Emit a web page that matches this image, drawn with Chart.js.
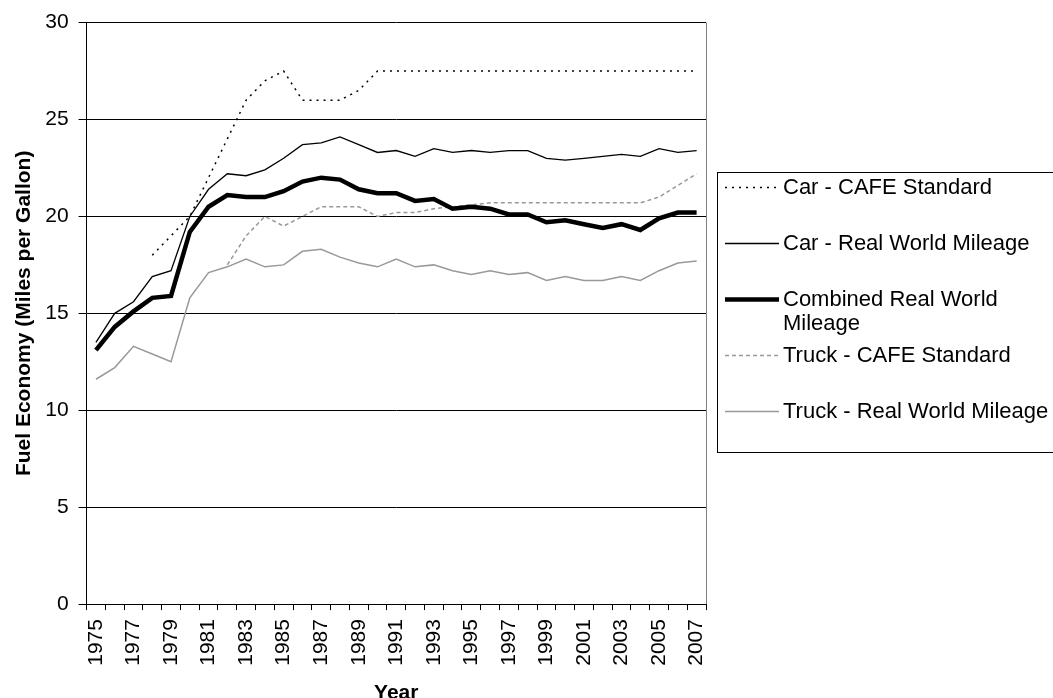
<html>
<head>
<style>
  body { margin: 0; background: #fff; }
  #wrap { width: 1053px; height: 698px; }
</style>
<script src="https://cdn.jsdelivr.net/npm/chart.js@4.4.0/dist/chart.umd.min.js"></script>
</head>
<body>
<div id="wrap"><canvas id="canvas" width="1053" height="698"></canvas></div>
<script>
var years = ['1975','1976','1977','1978','1979','1980','1981','1982','1983','1984','1985','1986','1987','1988','1989','1990','1991','1992','1993','1994','1995','1996','1997','1998','1999','2000','2001','2002','2003','2004','2005','2006','2007'];
var carCafe = [null,null,null,18.0,19.0,20.0,22.0,24.0,26.0,27.0,27.5,26.0,26.0,26.0,26.5,27.5,27.5,27.5,27.5,27.5,27.5,27.5,27.5,27.5,27.5,27.5,27.5,27.5,27.5,27.5,27.5,27.5,27.5];
var carReal = [13.5,15.0,15.6,16.9,17.2,20.0,21.4,22.2,22.1,22.4,23.0,23.7,23.8,24.1,23.7,23.3,23.4,23.1,23.5,23.3,23.4,23.3,23.4,23.4,23.0,22.9,23.0,23.1,23.2,23.1,23.5,23.3,23.4];
var combinedReal = [13.1,14.3,15.1,15.8,15.9,19.2,20.5,21.1,21.0,21.0,21.3,21.8,22.0,21.9,21.4,21.2,21.2,20.8,20.9,20.4,20.5,20.4,20.1,20.1,19.7,19.8,19.6,19.4,19.6,19.3,19.9,20.2,20.2];
var truckCafe = [null,null,null,null,null,null,null,17.5,19.0,20.0,19.5,20.0,20.5,20.5,20.5,20.0,20.2,20.2,20.4,20.5,20.6,20.7,20.7,20.7,20.7,20.7,20.7,20.7,20.7,20.7,21.0,21.6,22.2];
var truckReal = [11.6,12.2,13.3,12.9,12.5,15.8,17.1,17.4,17.8,17.4,17.5,18.2,18.3,17.9,17.6,17.4,17.8,17.4,17.5,17.2,17.0,17.2,17.0,17.1,16.7,16.9,16.7,16.7,16.9,16.7,17.2,17.6,17.7];
var yTicks = [0, 5, 10, 15, 20, 25, 30];

var fontFamily = '"Liberation Sans", Arial, sans-serif';

// legend drawn by hand so the box and wrapping match the original
var boxLegend = {
    id: 'boxLegend',
    afterDraw: function(chart) {
        var ctx = chart.ctx;
        var a = chart.chartArea;
        ctx.save();
        // right frame of plot area
        ctx.strokeStyle = '#808080';
        ctx.lineWidth = 1;
        ctx.beginPath();
        ctx.moveTo(Math.round(a.right) + 0.5, a.top);
        ctx.lineTo(Math.round(a.right) + 0.5, a.bottom);
        ctx.stroke();

        ctx.strokeStyle = '#000';
        ctx.strokeRect(717.5, 172.5, 400, 280);
        var items = [
            { ds: 0, y: 187, lines: ['Car - CAFE Standard'] },
            { ds: 1, y: 243, lines: ['Car - Real World Mileage'] },
            { ds: 2, y: 299, lines: ['Combined Real World', 'Mileage'] },
            { ds: 3, y: 355, lines: ['Truck - CAFE Standard'] },
            { ds: 4, y: 411, lines: ['Truck - Real World Mileage'] }
        ];
        ctx.font = '22px ' + fontFamily;
        ctx.textBaseline = 'middle';
        ctx.fillStyle = '#000';
        items.forEach(function(it) {
            var d = chart.data.datasets[it.ds];
            ctx.beginPath();
            ctx.strokeStyle = d.borderColor;
            ctx.lineWidth = d.borderWidth;
            ctx.setLineDash(d.borderDash || []);
            ctx.moveTo(725, it.y + 0.5);
            ctx.lineTo(779, it.y + 0.5);
            ctx.stroke();
            ctx.setLineDash([]);
            it.lines.forEach(function(t, k) {
                ctx.fillText(t, 783, it.y + 1 + k * 24);
            });
        });
        ctx.restore();
    }
};

var ctx = document.getElementById('canvas').getContext('2d');
var chart = new Chart(ctx, {
    type: 'line',
    data: {
        labels: years,
        datasets: [{
            label: 'Car - CAFE Standard',
            data: carCafe,
            borderColor: '#000',
            borderWidth: 1.5,
            borderDash: [2, 5]
        }, {
            label: 'Car - Real World Mileage',
            data: carReal,
            borderColor: '#000',
            borderWidth: 1.3
        }, {
            label: 'Combined Real World Mileage',
            data: combinedReal,
            borderColor: '#000',
            borderWidth: 4.5
        }, {
            label: 'Truck - CAFE Standard',
            data: truckCafe,
            borderColor: '#999',
            borderWidth: 1.5,
            borderDash: [4, 3]
        }, {
            label: 'Truck - Real World Mileage',
            data: truckReal,
            borderColor: '#999',
            borderWidth: 1.5
        }]
    },
    options: {
        responsive: false,
        animation: false,
        layout: { padding: { top: 8, right: 347, left: 8, bottom: -3 } },
        elements: { point: { radius: 0 }, line: { tension: 0 } },
        plugins: { legend: { display: false }, tooltip: { enabled: false } },
        scales: {
            x: {
                offset: true,
                grid: { offset: true, drawOnChartArea: false, drawTicks: true, tickLength: 6, color: '#000' },
                border: { color: '#000' },
                ticks: {
                    autoSkip: false,
                    maxRotation: 90,
                    minRotation: 90,
                    padding: 9,
                    color: '#000',
                    font: { family: fontFamily, size: 21 },
                    callback: function(v, i) { return i % 2 === 0 ? years[i] : ''; }
                },
                title: { display: true, text: 'Year', color: '#000', font: { family: fontFamily, size: 21, weight: 'bold' }, padding: { top: 6, bottom: -5 } }
            },
            y: {
                min: yTicks[0],
                max: yTicks[yTicks.length - 1],
                afterBuildTicks: function(ax) { ax.ticks = yTicks.map(function(v) { return { value: v }; }); },
                grid: { color: '#000', tickLength: 8 },
                border: { color: '#000' },
                ticks: { color: '#000', font: { family: fontFamily, size: 21 }, padding: 10 },
                title: { display: true, text: 'Fuel Economy (Miles per Gallon)', color: '#000', font: { family: fontFamily, size: 21, weight: 'bold' }, padding: { top: 4, bottom: -2 } }
            }
        }
    },
    plugins: [boxLegend]
});
</script>
</body>
</html>
